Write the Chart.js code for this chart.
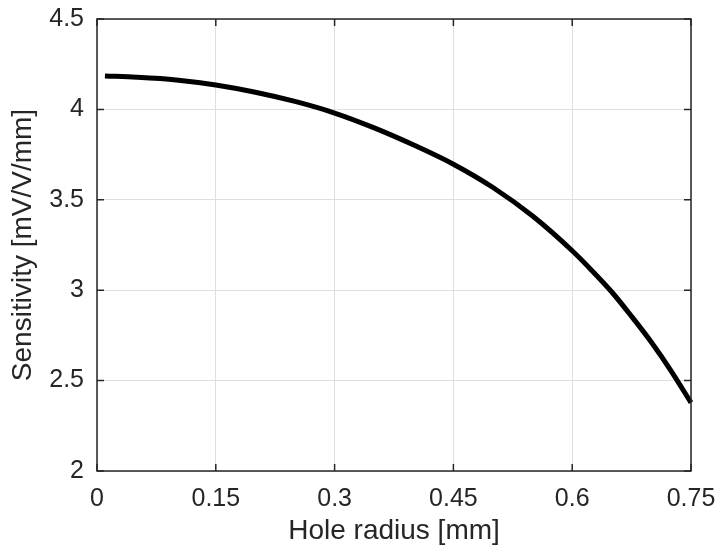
<!DOCTYPE html>
<html>
<head>
<meta charset="utf-8">
<script src="https://cdn.jsdelivr.net/npm/chart.js@4/dist/chart.umd.min.js"></script>
<style>
  html, body { margin: 0; padding: 0; background: #ffffff; }
  #wrap { width: 718px; height: 550px; position: relative; }
</style>
</head>
<body>
<div id="wrap"><canvas id="c" width="718" height="550"></canvas></div>
<script>
// Hole radius [mm]
const holeRadius = [0.01, 0.05, 0.10, 0.15, 0.20, 0.25, 0.30, 0.35, 0.40, 0.45, 0.50, 0.55, 0.60, 0.625, 0.65, 0.675, 0.70, 0.725, 0.75];
// Sensitivity [mV/V/mm]
const sensitivity = [4.185, 4.178, 4.163, 4.135, 4.095, 4.044, 3.980, 3.898, 3.803, 3.697, 3.568, 3.410, 3.218, 3.108, 2.990, 2.855, 2.712, 2.553, 2.378];

const xTicks = [0, 0.15, 0.3, 0.45, 0.6, 0.75];
const yTicks = [2, 2.5, 3, 3.5, 4, 4.5];

const axisColor = '#262626';
const fontFamily = '"Liberation Sans", Arial, Helvetica, sans-serif';

// Full box around the plot area with ticks pointing inward on all four sides
const boxPlugin = {
  id: 'boxTicks',
  afterDraw(chart) {
    const { ctx, chartArea: a, scales } = chart;
    const len = 7;
    ctx.save();
    ctx.strokeStyle = axisColor;
    ctx.lineWidth = 1.5;
    ctx.strokeRect(a.left, a.top, a.right - a.left, a.bottom - a.top);
    ctx.beginPath();
    xTicks.forEach(v => {
      const px = scales.x.getPixelForValue(v);
      ctx.moveTo(px, a.bottom); ctx.lineTo(px, a.bottom - len);
      ctx.moveTo(px, a.top); ctx.lineTo(px, a.top + len);
    });
    yTicks.forEach(v => {
      const py = scales.y.getPixelForValue(v);
      ctx.moveTo(a.left, py); ctx.lineTo(a.left + len, py);
      ctx.moveTo(a.right, py); ctx.lineTo(a.right - len, py);
    });
    ctx.stroke();
    ctx.restore();
  }
};

const points = holeRadius.map((x, i) => ({ x, y: sensitivity[i] }));

new Chart(document.getElementById('c'), {
  type: 'scatter',
  data: {
    datasets: [{
      data: points,
      showLine: true,
      borderColor: '#000000',
      borderWidth: 5,
      pointRadius: 0,
      cubicInterpolationMode: 'monotone',
      clip: false
    }]
  },
  options: {
    responsive: false,
    animation: false,
    devicePixelRatio: 1,
    layout: { padding: { top: 19, right: 27, left: 0, bottom: 0 } },
    plugins: { legend: { display: false }, tooltip: { enabled: false } },
    scales: {
      x: {
        type: 'linear',
        min: 0, max: 0.75,
        afterBuildTicks(scale) { scale.ticks = xTicks.map(v => ({ value: v })); },
        afterFit(scale) {
          scale.height = 79;
          scale.paddingLeft = 0;
          scale.paddingRight = 0;
        },
        grid: { color: '#dfdfdf', lineWidth: 1, drawTicks: false },
        border: { display: false },
        ticks: {
          color: axisColor,
          font: { family: fontFamily, size: 25 },
          padding: 13,
          maxRotation: 0,
          callback: v => String(v)
        },
        title: {
          display: true,
          text: 'Hole radius [mm]',
          color: axisColor,
          font: { family: fontFamily, size: 28 },
          padding: { top: 0, bottom: 2 }
        }
      },
      y: {
        type: 'linear',
        min: 2, max: 4.5,
        afterBuildTicks(scale) { scale.ticks = yTicks.map(v => ({ value: v })); },
        afterFit(scale) {
          scale.width = 97;
          scale.paddingTop = 0;
          scale.paddingBottom = 0;
        },
        grid: { color: '#dfdfdf', lineWidth: 1, drawTicks: false },
        border: { display: false },
        ticks: {
          color: axisColor,
          font: { family: fontFamily, size: 25 },
          padding: 13,
          callback: v => String(v)
        },
        title: {
          display: true,
          text: 'Sensitivity [mV/V/mm]',
          color: axisColor,
          font: { family: fontFamily, size: 28 },
          padding: { top: 6, bottom: 0 }
        }
      }
    }
  },
  plugins: [boxPlugin]
});
</script>
</body>
</html>
